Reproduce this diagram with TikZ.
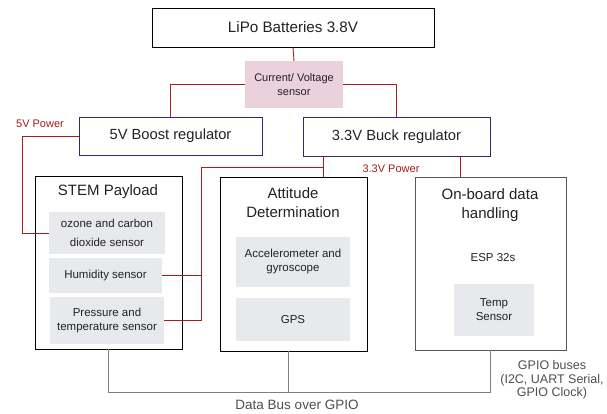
\documentclass[tikz,border=0pt]{standalone}
\usepackage{fontspec}
\setmainfont{Liberation Sans}
\definecolor{pwr}{HTML}{A61C1C}
\definecolor{navy}{HTML}{2E2A6B}
\definecolor{subfill}{HTML}{E8E9EC}
\definecolor{pinkfill}{HTML}{EAD1DC}
\definecolor{txt}{HTML}{222222}
\definecolor{busc}{HTML}{7F7F7F}
\definecolor{obb}{HTML}{595959}
\begin{document}
\begin{tikzpicture}[x=1pt,y=-1pt,
  every node/.style={text=txt, inner sep=0pt, align=center},
  bigbox/.style={draw=black, line width=0.8pt, fill=white},
  regbox/.style={draw=navy, line width=0.8pt, fill=white, font=\fontsize{14.7}{17}\selectfont},
  subbox/.style={fill=subfill, font=\fontsize{11.5}{14}\selectfont},
  title/.style={font=\fontsize{15}{18.5}\selectfont},
  pw/.style={draw=pwr, line width=0.9pt},
  bus/.style={draw=busc, line width=0.9pt},
  pwlabel/.style={text=pwr, font=\fontsize{11}{13}\selectfont},
  buslabel/.style={text=txt!80, font=\fontsize{12.5}{13.5}\selectfont}
]
\useasboundingbox (0,0) rectangle (607,414);

% coordinates for connector routing
\coordinate (c5) at (22,137);
\coordinate (c3) at (201,167);
\coordinate (j) at (323,167);
\coordinate (k) at (460,167);
\coordinate (busy) at (0,392);
\coordinate (ab) at (288,392);

% top
\node[draw=black, line width=0.8pt, minimum width=282pt, minimum height=39pt,
      font=\fontsize{15.2}{17}\selectfont] (lipo) at (293,27.5) {LiPo Batteries 3.8V};
\node[fill=pinkfill, minimum width=98pt, minimum height=47pt,
      font=\fontsize{11}{14}\selectfont] (sensor) at (294,84.5) {Current/ Voltage\\sensor};
\node[regbox, minimum width=183pt, minimum height=38pt] (boost) at (170.5,136) {5V Boost regulator};
\node[regbox, minimum width=187pt, minimum height=39pt] (buck) at (396.5,136.5) {3.3V Buck regulator};

% power connectors (behind boxes)
\draw[pw] (lipo.south) -- (sensor.north);
\draw[pw] (sensor.west) -| (boost.north);
\draw[pw] (sensor.east) -| (buck.north);

% big boxes
\node[bigbox, minimum width=147pt, minimum height=173pt] (stem) at (108.5,262.5) {};
\node[bigbox, minimum width=147pt, minimum height=174pt] (att) at (293.5,264) {};
\node[bigbox, draw=obb, minimum width=151pt, minimum height=173pt] (onb) at (490.5,263.5) {};

\node[title] (stemt) at (108,192) {STEM Payload};
\node[title] (attt) at (293,202.5) {Attitude\\Determination};
\node[title] (onbt) at (490,205) {On-board data\\handling};
\node[font=\fontsize{11.5}{14}\selectfont] (esp) at (493,258) {ESP 32s};

% sub boxes
\node[subbox, minimum width=116pt, minimum height=42pt, font=\fontsize{11.5}{19}\selectfont] (ozone) at (107,233) {ozone and carbon\\dioxide sensor};
\node[subbox, minimum width=113pt, minimum height=35pt] (humid) at (105.5,275.5) {Humidity sensor};
\node[subbox, minimum width=114pt, minimum height=47pt] (press) at (107,320.5) {Pressure and\\temperature sensor};
\node[subbox, minimum width=114pt, minimum height=50pt] (acc) at (293,262) {Accelerometer and\\gyroscope};
\node[subbox, minimum width=114pt, minimum height=43pt] (gps) at (293,319.5) {GPS};
\node[subbox, minimum width=80pt, minimum height=52pt] (temp) at (494,310) {Temp\\Sensor};

% power distribution
\draw[pw] (boost.west) -- (boost.west -| c5) |- (ozone.west);
\draw[pw] (press.east) -| (c3) -- (j);
\draw[pw] (humid.east) -- (humid.east -| c3);
\draw[pw] (buck.south -| j) -- (att.north -| j);
\draw[pw] (buck.south -| k) -- (onb.north -| k);

\node[pwlabel] (l5) at (40,124) {5V Power};
\node[pwlabel] (l33) at (391,169) {3.3V Power};

% data bus
\draw[bus] (stem.south) -- (stem.south |- busy) -- (onb.south |- busy) -- (onb.south);
\draw[bus] (ab) -- (ab |- att.south);
\node[buslabel, font=\fontsize{13.5}{14}\selectfont] (dbl) at (297,405) {Data Bus over GPIO};
\node[buslabel] (gpl) at (552,380) {GPIO buses\\(I2C, UART Serial,\\GPIO Clock)};
\end{tikzpicture}
\end{document}
